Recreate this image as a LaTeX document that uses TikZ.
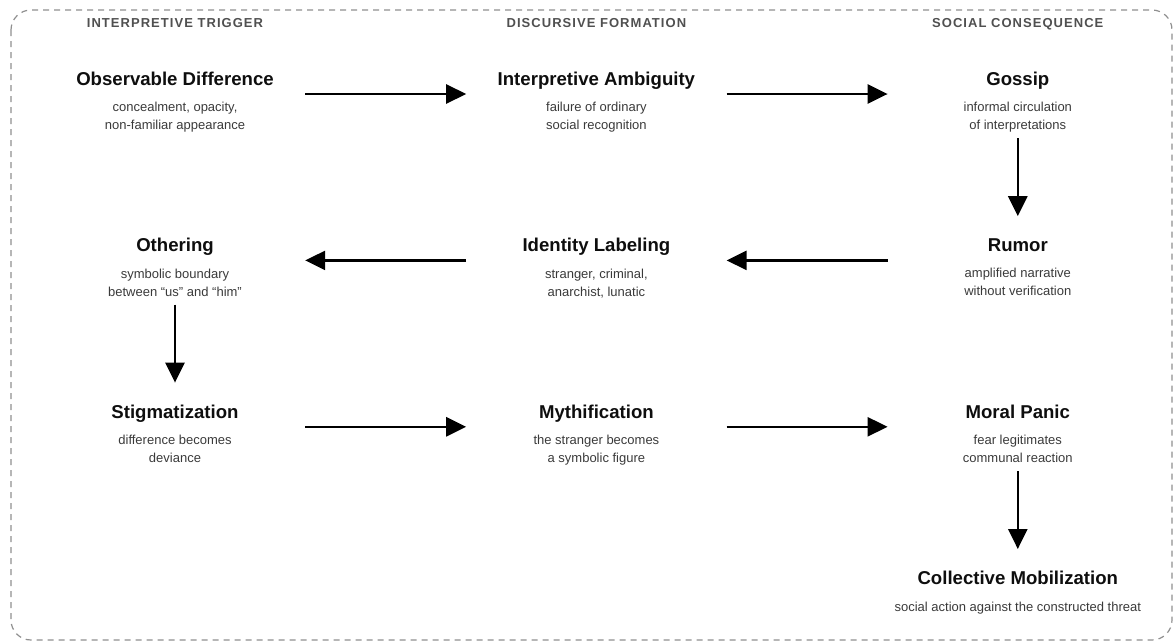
\documentclass[tikz,border=0pt]{standalone}
\usepackage{fontspec}
\setmainfont{Liberation Sans}
\newfontfamily\headfont[LetterSpace=8]{Liberation Sans}
\usetikzlibrary{arrows.meta, positioning}

\definecolor{titleink}{HTML}{0E0E0E}
\definecolor{subink}{HTML}{3A3A3A}
\definecolor{headink}{HTML}{505050}
\definecolor{frameink}{HTML}{8F8F8F}

% title and description of one stage
\newcommand{\stagetext}[2]{\parbox[c][88pt][t]{260pt}{\centering
  \vspace*{22pt}%
  {\fontsize{18.6}{18.6}\selectfont\bfseries\leavevmode\color{titleink}\rule{0pt}{12pt}#1\par}%
  \vspace{8.5pt}%
  {\fontsize{13}{18}\selectfont\leavevmode\color{subink}#2\par}}}

\tikzset{
  stage/.style={minimum width=260pt, minimum height=88pt, inner sep=0pt},
  header/.style={anchor=base, inner sep=0pt, text=headink, font=\headfont\bfseries\fontsize{13}{13}\selectfont},
  flow/.style={line width=2.5pt, -{Triangle[length=20pt,width=19pt]}},
  frame/.style={draw=frameink, line width=1.2pt, dash pattern=on 6pt off 5pt, rounded corners=20pt}
}

\begin{document}
\begin{tikzpicture}[x=1pt, y=-1pt, node distance=78pt and 161pt]
  \useasboundingbox (0,0) rectangle (1176,643);
  \draw[frame] (11,10) rectangle (1172,640);

  % first row
  \node[stage] (obs) at (175,94) {\stagetext{Observable Difference}{concealment, opacity,\\non-familiar appearance}};
  \node[stage, right=of obs] (amb) {\stagetext{Interpretive Ambiguity}{failure of ordinary\\social recognition}};
  \node[stage, right=of amb] (gossip) {\stagetext{Gossip}{informal circulation\\of interpretations}};

  % second row
  \node[stage, below=of gossip] (rumor) {\stagetext{Rumor}{amplified narrative\\without verification}};
  \node[stage, left=of rumor] (label) {\stagetext{Identity Labeling}{stranger, criminal,\\anarchist, lunatic}};
  \node[stage, left=of label] (other) {\stagetext{Othering}{symbolic boundary\\between “us” and “him”}};

  % third row
  \node[stage, below=of other] (stigma) {\stagetext{Stigmatization}{difference becomes\\deviance}};
  \node[stage, right=of stigma] (myth) {\stagetext{Mythification}{the stranger becomes\\a symbolic figure}};
  \node[stage, right=of myth] (panic) {\stagetext{Moral Panic}{fear legitimates\\communal reaction}};
  \node[stage, below=of panic] (mobil) {\stagetext{Collective Mobilization}{social action against the constructed threat}};

  % column headers
  \node[header] (hdtrigger) at (obs |- 0,27) {INTERPRETIVE TRIGGER};
  \node[header] (hdformation) at (amb |- 0,27) {DISCURSIVE FORMATION};
  \node[header] (hdconsequence) at (gossip |- 0,27) {SOCIAL CONSEQUENCE};

  \draw[flow] (obs) -- (amb);
  \draw[flow] (amb) -- (gossip);
  \draw[flow] (gossip) -- (rumor);
  \draw[flow] (rumor) -- (label);
  \draw[flow] (label) -- (other);
  \draw[flow] (other) -- (stigma);
  \draw[flow] (stigma) -- (myth);
  \draw[flow] (myth) -- (panic);
  \draw[flow] (panic) -- (mobil);
\end{tikzpicture}
\end{document}
